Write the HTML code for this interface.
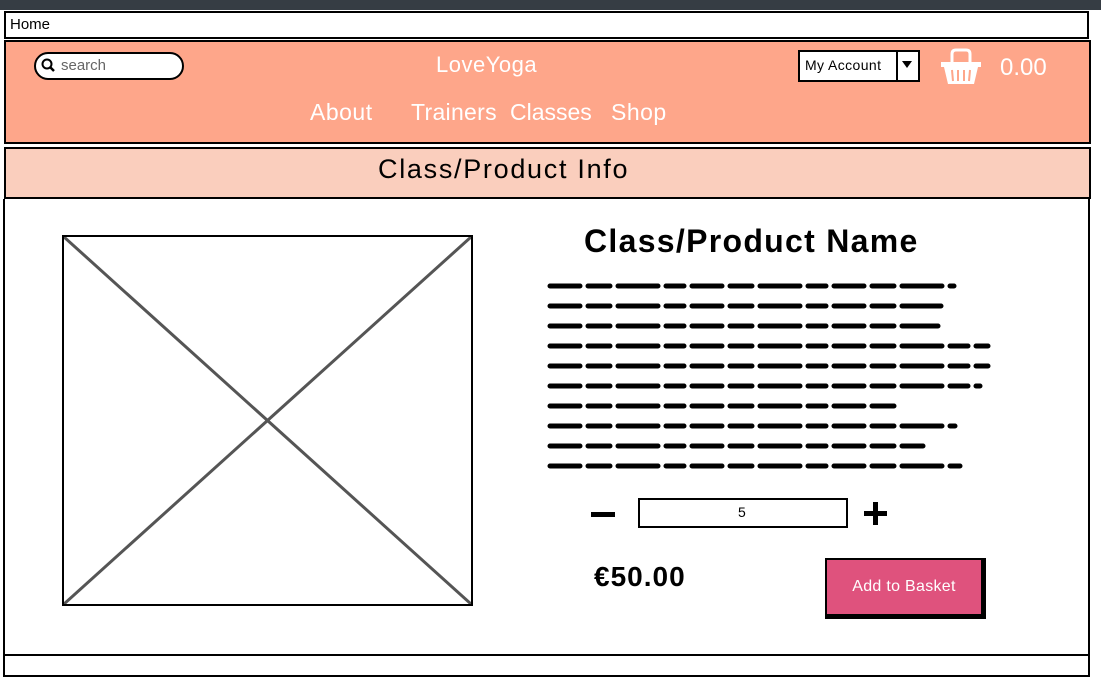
<!DOCTYPE html>
<html><head><meta charset="utf-8"><style>
body{margin:0;width:1101px;height:685px;background:#fff;position:relative;overflow:hidden;font-family:"Liberation Sans",sans-serif}
.a{position:absolute;box-sizing:border-box;white-space:nowrap}
</style></head><body>
<div class="a" style="left:0;top:0;width:1101px;height:10px;background:#363d44"></div>
<div class="a" style="left:4px;top:11px;width:1085px;height:28px;border:2px solid #000;background:#fff"></div>
<div class="a" style="left:10px;top:16px;font-size:15px">Home</div>
<div class="a" style="left:4px;top:40px;width:1087px;height:104px;border:2px solid #000;background:#fea68a"></div>
<div class="a" style="left:34px;top:52px;width:150px;height:28px;border:2px solid #000;border-radius:14px;background:#fff"></div>
<svg class="a" style="left:41px;top:58px" width="16" height="16"><circle cx="6" cy="6" r="4.5" fill="none" stroke="#000" stroke-width="2"/><line x1="9" y1="9" x2="13" y2="13" stroke="#000" stroke-width="2.5"/></svg>
<div class="a" style="left:61px;top:57px;font-size:15px;color:#666">search</div>
<div class="a" style="left:436px;top:52px;font-size:22px;color:#fff;letter-spacing:0.5px">LoveYoga</div>
<div class="a" style="left:310px;top:99px;font-size:23px;color:#fff;letter-spacing:0.5px">About</div>
<div class="a" style="left:411px;top:99px;font-size:23px;color:#fff;letter-spacing:0.3px">Trainers</div>
<div class="a" style="left:510px;top:99px;font-size:23px;color:#fff;letter-spacing:0px">Classes</div>
<div class="a" style="left:611px;top:99px;font-size:23px;color:#fff;letter-spacing:0.5px">Shop</div>
<div class="a" style="left:798px;top:50px;width:122px;height:32px;border:2px solid #000;background:#fff"></div>
<div class="a" style="left:896px;top:50px;width:2px;height:32px;background:#000"></div>
<div class="a" style="left:805px;top:57px;font-size:14px;letter-spacing:0.4px">My Account</div>
<div class="a" style="left:902px;top:61px;width:0;height:0;border-left:5px solid transparent;border-right:5px solid transparent;border-top:7px solid #000"></div>
<svg class="a" style="left:940px;top:48px" width="42" height="38"><path d="M12 14 V6 Q12 2 16 2 H26 Q30 2 30 6 V14" fill="none" stroke="#fff" stroke-width="3"/><path d="M1 14 H41 V19 H38 L34 36 H8 L4 19 H1Z" fill="#fff"/><g stroke="#fea68a" stroke-width="2"><line x1="12" y1="22" x2="13" y2="33"/><line x1="18" y1="22" x2="18" y2="33"/><line x1="24" y1="22" x2="24" y2="33"/><line x1="30" y1="22" x2="29" y2="33"/></g></svg>
<div class="a" style="left:1000px;top:54px;font-size:24px;color:#fff">0.00</div>
<div class="a" style="left:4px;top:147px;width:1087px;height:52px;border:2px solid #000;background:#facebd"></div>
<div class="a" style="left:378px;top:154px;font-size:27px;letter-spacing:1.7px">Class/Product Info</div>
<div class="a" style="left:3px;top:199px;width:1087px;height:456px;border-left:2px solid #000;border-right:2px solid #000"></div>
<div class="a" style="left:3px;top:654px;width:1087px;height:23px;border:2px solid #000"></div>
<div class="a" style="left:62px;top:235px;width:411px;height:371px;border:2px solid #000"></div>
<svg class="a" style="left:64px;top:237px" width="407" height="367"><line x1="0" y1="0" x2="407" y2="367" stroke="#555" stroke-width="3"/><line x1="407" y1="0" x2="0" y2="367" stroke="#555" stroke-width="3"/></svg>
<div class="a" style="left:584px;top:223px;font-size:32px;font-weight:bold;letter-spacing:1.3px">Class/Product Name</div>
<svg class="a" style="left:0;top:0" width="1101" height="685"><g stroke="#000" stroke-width="5" stroke-linecap="round" stroke-dasharray="30 8 22 8 40 8 18 8">
<line x1="550" y1="286" x2="954" y2="286"/><line x1="550" y1="306" x2="941" y2="306"/><line x1="550" y1="326" x2="938" y2="326"/><line x1="550" y1="346" x2="988" y2="346"/><line x1="550" y1="366" x2="988" y2="366"/><line x1="550" y1="386" x2="980" y2="386"/><line x1="550" y1="406" x2="898" y2="406"/><line x1="550" y1="426" x2="955" y2="426"/><line x1="550" y1="446" x2="923" y2="446"/><line x1="550" y1="466" x2="960" y2="466"/></g></svg>
<div class="a" style="left:591px;top:512px;width:24px;height:5px;background:#000"></div>
<div class="a" style="left:638px;top:498px;width:210px;height:30px;border:2px solid #000"></div>
<div class="a" style="left:738px;top:504px;font-size:14px">5</div>
<div class="a" style="left:864px;top:511px;width:23px;height:5px;background:#000"></div>
<div class="a" style="left:873px;top:502px;width:5px;height:23px;background:#000"></div>
<div class="a" style="left:594px;top:561px;font-size:28px;font-weight:bold;letter-spacing:1px">€50.00</div>
<div class="a" style="left:825px;top:558px;width:161px;height:61px;background:#000"></div>
<div class="a" style="left:827px;top:560px;width:154px;height:54px;background:#df527d"></div>
<div class="a" style="left:827px;top:578px;width:154px;text-align:center;font-size:16px;color:#fff;letter-spacing:0.3px">Add to Basket</div>
</body></html>
